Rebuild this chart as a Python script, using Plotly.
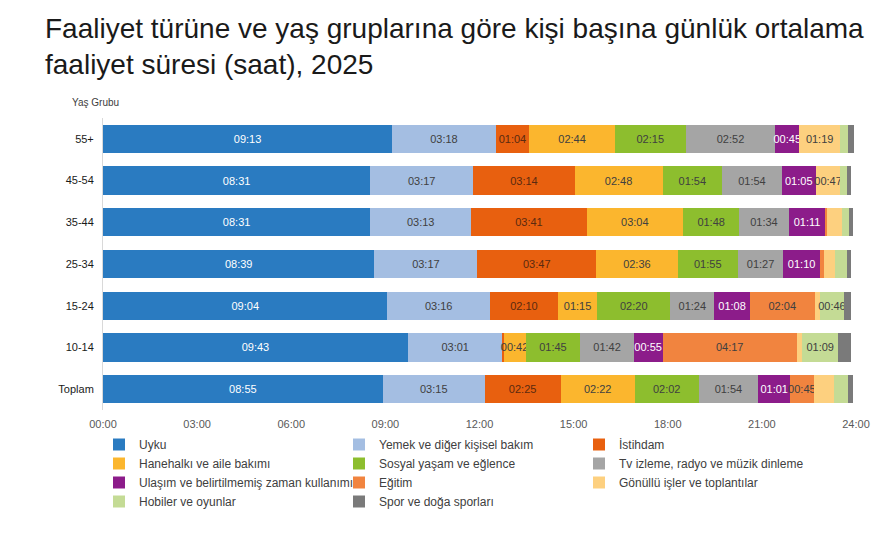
import plotly.graph_objects as go

# ---- data (minutes per day) ----
categories = ["55+", "45-54", "35-44", "25-34", "15-24", "10-14", "Toplam"]
series_names = [
    "Uyku", "Yemek ve diğer kişisel bakım", "İstihdam",
    "Hanehalkı ve aile bakımı", "Sosyal yaşam ve eğlence",
    "Tv izleme, radyo ve müzik dinleme",
    "Ulaşım ve belirtilmemiş zaman kullanımı", "Eğitim",
    "Gönüllü işler ve toplantılar", "Hobiler ve oyunlar",
    "Spor ve doğa sporları",
]
uyku      = [553, 511, 511, 519, 544, 583, 535]
yemek     = [198, 197, 193, 197, 196, 181, 195]
istihdam  = [64, 194, 221, 227, 130, 2, 145]
hanehalki = [164, 168, 184, 156, 75, 42, 142]
sosyal    = [135, 114, 108, 115, 140, 105, 122]
tv        = [172, 114, 94, 87, 84, 102, 114]
ulasim    = [45, 65, 71, 70, 68, 55, 61]
egitim    = [0, 0, 3, 8, 124, 257, 45]
gonullu   = [79, 47, 28, 21, 10, 10, 38]
hobi      = [15, 12, 13, 22, 46, 69, 27]
spor      = [11, 9, 9, 9, 14, 25, 10]
tick_vals = [0, 180, 360, 540, 720, 900, 1080, 1260, 1440]
tick_text = ["00:00", "03:00", "06:00", "09:00", "12:00", "15:00", "18:00", "21:00", "24:00"]

series = [uyku, yemek, istihdam, hanehalki, sosyal, tv, ulasim, egitim, gonullu, hobi, spor]
colors = ["#2A7BC1", "#A4BEE2", "#E8600F", "#FBB62E", "#8DBE2E", "#A5A5A5",
          "#8C1C8A", "#F1843F", "#FDD07F", "#C4DB95", "#7A7A7A"]
text_colors = ["#FFFFFF", "#404040", "#5A2A10", "#404040", "#404040", "#404040",
               "#FFFFFF", "#404040", "#404040", "#404040", "#404040"]

FONT = "Liberation Sans, Arial, sans-serif"
PLOT_TOP, PLOT_H, PLOT_L, PLOT_W = 118, 292, 103, 753


def fmt(v):
    return f"{v // 60:02d}:{v % 60:02d}" if v >= 40 else ""


fig = go.Figure()
for name, vals, col, tcol in zip(series_names, series, colors, text_colors):
    fig.add_trace(go.Bar(
        y=categories, x=vals, name=name, orientation="h",
        marker=dict(color=col, line=dict(width=0)),
        text=[fmt(v) for v in vals],
        textposition="inside", insidetextanchor="middle", textangle=0,
        constraintext="none",
        textfont=dict(color=tcol, size=11, family=FONT),
        hoverinfo="skip",
    ))

fig.update_layout(
    width=896, height=538,
    barmode="stack", bargap=0.32,
    plot_bgcolor="white", paper_bgcolor="white",
    margin=dict(l=PLOT_L, r=896 - PLOT_L - PLOT_W, t=PLOT_TOP, b=538 - PLOT_TOP - PLOT_H,
                autoexpand=False),
    font=dict(family=FONT, size=11, color="#404040"),
    uniformtext=dict(minsize=11, mode="show"),
    xaxis=dict(
        range=[0, 1440], tickvals=tick_vals, ticktext=tick_text,
        showgrid=False, zeroline=False, showline=False, ticks="",
        ticklabelstandoff=6,
        tickfont=dict(size=11, color="#595959"),
    ),
    yaxis=dict(
        categoryorder="array", categoryarray=categories, autorange="reversed",
        showgrid=False, zeroline=False, showline=True, linecolor="#D9D9D9",
        linewidth=1, ticks="", ticklabelstandoff=6,
        tickfont=dict(size=11, color="#1a1a1a"),
    ),
    legend=dict(
        orientation="h", x=(99 - PLOT_L) / PLOT_W, xanchor="left",
        y=-(430 - PLOT_TOP - PLOT_H) / PLOT_H, yanchor="top",
        entrywidth=195, entrywidthmode="pixels",
        traceorder="normal", itemwidth=30,
        font=dict(size=12, color="#404040"),
        tracegroupgap=0,
    ),
    showlegend=True,
    annotations=[
        dict(
            text="Faaliyet türüne ve yaş gruplarına göre kişi başına günlük ortalama<br>faaliyet süresi (saat), 2025",
            xref="paper", yref="paper", x=(43 - PLOT_L) / PLOT_W, xanchor="left",
            y=1 + (PLOT_TOP - 11) / PLOT_H, yanchor="top", align="left",
            showarrow=False, font=dict(size=28, color="#1a1a1a", family=FONT),
        ),
        dict(
            text="Yaş Grubu", xref="paper", yref="paper", x=(70 - PLOT_L) / PLOT_W,
            xanchor="left", y=1 + (PLOT_TOP - 103) / PLOT_H, yanchor="middle",
            showarrow=False, font=dict(size=10, color="#404040"),
        ),
    ],
)

fig.write_html("out.html")
